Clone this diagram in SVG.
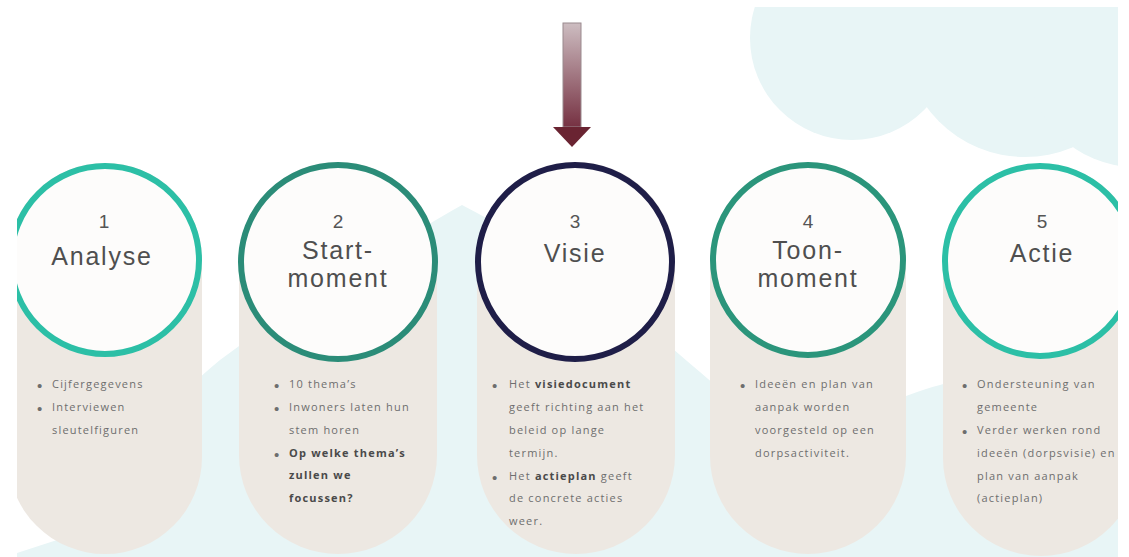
<svg xmlns="http://www.w3.org/2000/svg" width="1129" height="557" viewBox="0 0 1129 557">
<defs>
<clipPath id="area"><rect x="17" y="7" width="1101" height="550"/></clipPath>
<linearGradient id="arrowGrad" x1="0" y1="0" x2="0" y2="1">
<stop offset="0" stop-color="#cdbdc1"/>
<stop offset="1" stop-color="#763142"/>
</linearGradient>
<style>
.bg{fill:#e8f5f6}
.body{fill:#ede8e2}
.ring{fill:#fdfcfb;stroke-width:6}
.num{font-family:"Liberation Sans","Open Sans",sans-serif;font-size:19px;fill:#555;text-anchor:middle}
.ttl{font-family:"Liberation Sans","Open Sans",sans-serif;font-size:25px;fill:#4f4f4f;text-anchor:middle;letter-spacing:1.8px}
.txt{font-family:"Open Sans","Liberation Sans",sans-serif;font-size:11px;fill:#6e6e6e;letter-spacing:1.2px}
.blt{font-family:"Liberation Sans",sans-serif;font-size:15px;fill:#6e6e6e}
.b{font-weight:700;fill:#4a4a4a}
</style>
</defs>
<rect width="1129" height="557" fill="#ffffff"/>
<g clip-path="url(#area)">
<g id="background">
<circle class="bg" cx="852" cy="38" r="102"/>
<circle class="bg" cx="1025" cy="35" r="122"/>
<circle class="bg" cx="1135" cy="60" r="107"/>
<rect class="bg" x="852" y="7" width="280" height="60"/>
<path class="bg" d="M17 557 L17 553 L57 540 C120 470 170 400 220 360 C300 300 400 240 462 205 C560 255 640 320 700 372 L790 450 C850 420 900 395 940 385 L1118 330 L1118 557 Z"/>
</g>
<g id="connectors">
<rect x="563" y="23" width="18" height="104" fill="url(#arrowGrad)" stroke="#9a8a8e" stroke-width="1"/>
<polygon points="553,127 591,127 572,147" fill="#6a2432"/>
</g>
<g id="node1">
<rect class="body" x="8" y="163" width="194" height="391" rx="97"/>
<circle class="ring" cx="105" cy="260" r="94" stroke="#2cbfa6"/>
<text class="num" x="104" y="228">1</text>
<text class="ttl" x="102" y="265">Analyse</text>
<text class="blt" x="37" y="391">•</text><text class="txt" x="52" y="388">Cijfergegevens</text>
<text class="blt" x="37" y="414">•</text><text class="txt" x="52" y="411">Interviewen</text>
<text class="txt" x="52" y="434">sleutelfiguren</text>
</g>
<g id="node2">
<rect class="body" x="239" y="162" width="198" height="392" rx="99"/>
<circle class="ring" cx="338" cy="262" r="97" stroke="#2b8c78"/>
<text class="num" x="338" y="228">2</text>
<text class="ttl" x="338" y="259">Start-</text>
<text class="ttl" x="338" y="287">moment</text>
<text class="blt" x="274" y="391">•</text><text class="txt" x="289" y="388">10 thema’s</text>
<text class="blt" x="274" y="414">•</text><text class="txt" x="289" y="411">Inwoners laten hun</text>
<text class="txt" x="289" y="434">stem horen</text>
<text class="blt" x="274" y="460">•</text><text class="txt b" x="289" y="457">Op welke thema’s</text>
<text class="txt b" x="289" y="479">zullen we</text>
<text class="txt b" x="289" y="502">focussen?</text>
</g>
<g id="node3">
<rect class="body" x="477" y="162" width="198" height="392" rx="99"/>
<circle class="ring" cx="575" cy="262" r="97" stroke="#1f1e48"/>
<text class="num" x="575" y="228">3</text>
<text class="ttl" x="575" y="262">Visie</text>
<text class="blt" x="492" y="391">•</text><text class="txt" x="509" y="388">Het <tspan class="b">visiedocument</tspan></text>
<text class="txt" x="509" y="411">geeft richting aan het</text>
<text class="txt" x="509" y="434">beleid op lange</text>
<text class="txt" x="509" y="457">termijn.</text>
<text class="blt" x="492" y="483">•</text><text class="txt" x="509" y="480">Het <tspan class="b">actieplan</tspan> geeft</text>
<text class="txt" x="509" y="502">de concrete acties</text>
<text class="txt" x="509" y="525">weer.</text>
</g>
<g id="node4">
<rect class="body" x="710" y="163" width="196" height="391" rx="98"/>
<circle class="ring" cx="808" cy="260" r="95" stroke="#2b957b"/>
<text class="num" x="808" y="228">4</text>
<text class="ttl" x="808" y="259">Toon-</text>
<text class="ttl" x="808" y="287">moment</text>
<text class="blt" x="740" y="391">•</text><text class="txt" x="755" y="388">Ideeën en plan van</text>
<text class="txt" x="755" y="411">aanpak worden</text>
<text class="txt" x="755" y="434">voorgesteld op een</text>
<text class="txt" x="755" y="457">dorpsactiviteit.</text>
</g>
<g id="node5">
<rect class="body" x="943" y="164" width="196" height="392" rx="98"/>
<circle class="ring" cx="1040" cy="261" r="95" stroke="#2cbfa6"/>
<text class="num" x="1042" y="228">5</text>
<text class="ttl" x="1042" y="262">Actie</text>
<text class="blt" x="962" y="391">•</text><text class="txt" x="977" y="388">Ondersteuning van</text>
<text class="txt" x="977" y="411">gemeente</text>
<text class="blt" x="962" y="437">•</text><text class="txt" x="977" y="434">Verder werken rond</text>
<text class="txt" x="977" y="457">ideeën (dorpsvisie) en</text>
<text class="txt" x="977" y="480">plan van aanpak</text>
<text class="txt" x="977" y="502">(actieplan)</text>
</g>
</g>
</svg>
